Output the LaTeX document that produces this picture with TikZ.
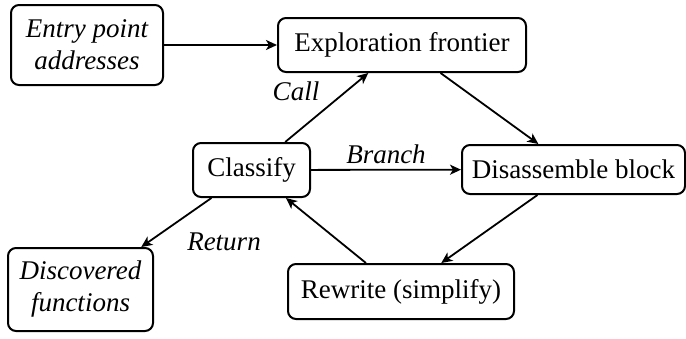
\documentclass[tikz,border=0pt]{standalone}
\usepackage{fontspec}
\setmainfont{Liberation Serif}[ItalicFont={Liberation Serif Italic}]
\usetikzlibrary{arrows.meta}
\begin{document}
\begin{tikzpicture}[x=0.5pt,y=-0.5pt,
  box/.style={draw,line width=1pt,rounded corners=4pt,align=center,font=\fontsize{13.5}{16}\selectfont,inner sep=0pt},
  arr/.style={line width=0.9pt,-{Stealth[length=5.5pt,width=5pt,inset=1.5pt]}},
  lab/.style={font=\fontsize{13.5}{16}\selectfont\itshape}]
\useasboundingbox (0,0) rectangle (686,338);
\node[box,minimum width=76pt,minimum height=40pt] (entry) at (87,45) {\itshape Entry point\\\itshape addresses};
\node[box,minimum width=124pt,minimum height=27pt] (expl) at (402,45) {Exploration frontier};
\node[box,minimum width=58.5pt,minimum height=27pt] (cls) at (251.5,170) {Classify};
\node[box,minimum width=111.5pt,minimum height=24.5pt] (dis) at (573.5,169.5) {Disassemble block};
\node[box,minimum width=72.5pt,minimum height=41.5pt] (disc) at (80.5,289.5) {\itshape Discovered\\\itshape functions};
\node[box,minimum width=113pt,minimum height=27.5pt] (rew) at (401,291.5) {Rewrite (simplify)};
\draw[arr] (entry) -- (expl);
\draw[arr] (cls) -- (expl);
\draw[arr] (expl) -- (dis);
\draw[arr] (cls) -- (dis);
\draw[arr] (dis) -- (rew);
\draw[arr] (rew) -- (cls);
\draw[arr] (cls) -- (disc);
\node[lab] (lcall) at (296,91) {Call};
\node[lab] (lbranch) at (386,154) {Branch};
\node[lab] (lret) at (224,242) {Return};
\end{tikzpicture}
\end{document}
